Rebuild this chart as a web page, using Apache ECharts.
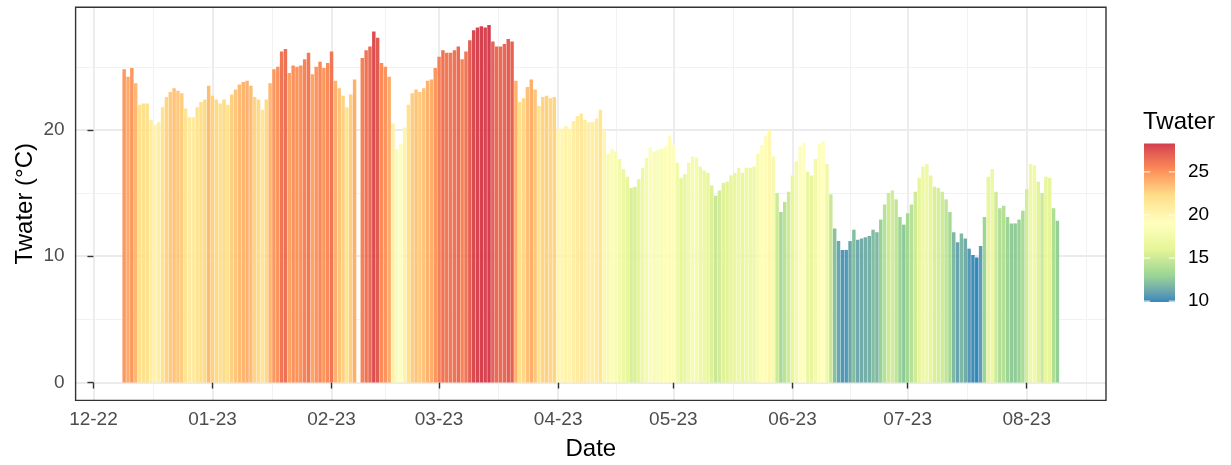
<!DOCTYPE html>
<html>
<head>
<meta charset="utf-8">
<script src="https://cdn.jsdelivr.net/npm/echarts@6/dist/echarts.min.js"></script>
<style>
  html, body { margin: 0; padding: 0; background: #ffffff; }
  #chart { width: 1231px; height: 465px; }
</style>
</head>
<body>
<div id="chart"></div>
<script>
// Daily mean water temperature (°C), one value per day from firstDate on; null = no reading
const firstDate = '2022-12-09';
const twaterDec = [24.8, 24.2, 24.9, 23.7, 22.0, 22.1, 22.1, 20.8, 20.4, 20.6, 21.8, 22.6, 23.0, 23.3, 23.1, 22.9, 21.7, 21.0, 21.0, 21.8, 22.2, 22.4, 23.5];
const twaterJan = [22.7, 22.4, 22.1, 22.4, 22.0, 22.8, 23.2, 23.6, 23.8, 23.9, 23.5, 22.6, 22.4, 21.6, 22.4, 23.7, 24.8, 25.0, 26.2, 26.4, 24.5, 25.1, 25.0, 25.1, 25.6, 26.1, 24.4, 25.0, 25.4, 24.9, 25.3];
const twaterFeb = [26.2, 23.9, 23.3, 22.7, 21.8, 22.8, 24.0, null, 25.7, 26.3, 26.6, 27.8, 27.3, 25.3, 25.0, 24.2, 20.5, 18.5, 18.9, 20.2, 22.0, 22.9, 23.2, 23.0, 23.3, 23.9, 24.0, 24.9];
const twaterMar = [25.8, 26.3, 26.1, 26.1, 26.3, 26.6, 25.6, 26.2, 27.1, 27.9, 28.1, 28.2, 28.1, 28.3, 27.0, 26.6, 26.6, 26.8, 27.2, 27.0, 23.9, 22.2, 22.5, 23.4, 24.0, 23.2, 21.9, 22.6, 22.7, 22.5, 22.6];
const twaterApr = [20.1, 20.1, 20.3, 20.1, 20.7, 21.1, 21.3, 20.8, 20.6, 20.6, 20.9, 21.6, 20.0, 18.1, 18.5, 18.3, 17.7, 16.9, 16.3, 15.4, 15.5, 16.1, 17.0, 17.8, 18.6, 18.3, 18.4, 18.5, 18.7, 19.5];
const twaterMay = [18.8, 17.4, 16.2, 16.5, 17.4, 17.9, 17.8, 17.1, 16.8, 16.6, 15.6, 14.8, 15.2, 15.8, 15.9, 16.4, 16.6, 17.0, 16.6, 17.0, 17.0, 17.1, 18.1, 18.8, 19.5, 20.0, 17.9, 15.0, 13.5, 14.3, 15.1];
const twaterJun = [16.4, 17.5, 18.7, 19.0, 16.7, 16.4, 17.7, 18.9, 19.1, 17.3, 14.9, 12.2, 11.2, 10.5, 10.5, 11.2, 12.1, 11.3, 11.4, 11.5, 11.6, 12.1, 11.9, 12.9, 14.1, 15.0, 15.2, 14.5, 13.1, 12.5];
const twaterJul = [13.4, 14.1, 15.1, 16.2, 17.1, 17.3, 16.4, 15.5, 15.4, 15.1, 14.5, 13.5, 11.9, 11.1, 11.8, 11.4, 10.6, 10.1, 9.9, 10.8, 13.1, 16.3, 16.9, 15.1, 13.8, 14.0, 13.1, 12.6, 12.6, 12.9, 13.6];
const twaterAug = [15.3, 17.3, 17.2, 15.9, 15.0, 16.3, 16.2, 13.8, 12.8];

// Date axis breaks (first of each month) and their labels
const monthBreaks = ['2022-12-01', '2023-01-01', '2023-02-01', '2023-03-01', '2023-04-01', '2023-05-01', '2023-06-01', '2023-07-01', '2023-08-01'];
const monthLabels = ['12-22', '01-23', '02-23', '03-23', '04-23', '05-23', '06-23', '07-23', '08-23'];

// Temperature axis breaks and colour bar breaks
const yBreaks = [0, 10, 20];
const yMinorBreaks = [5, 15, 25];
const legendBreaks = [10, 15, 20, 25];

// ColorBrewer "Spectral" (7 classes), cold to warm
const spectral = ['#3288BD', '#99D594', '#E6F598', '#FFFFBF', '#FEE08B', '#FC8D59', '#D53E4F'];

// ---------------------------------------------------------------------------
const FONT = '"Liberation Sans", Arial, sans-serif';
const DAY = 86400000;
const ORIGIN = Date.UTC(2022, 11, 1);
const dayOf = s => (Date.parse(s + 'T00:00:00Z') - ORIGIN) / DAY;

const values = [].concat(twaterDec, twaterJan, twaterFeb, twaterMar, twaterApr, twaterMay, twaterJun, twaterJul, twaterAug);
const d0 = dayOf(firstDate);
const points = [];
values.forEach((v, i) => { if (v !== null) points.push([d0 + i, v]); });

const present = values.filter(v => v !== null);
const tMin = Math.min(...present);
const tMax = Math.max(...present);

// x range: bar extents (0.9 day wide) with 5 % padding on each side
const barHalf = 0.45;
const xLo = points[0][0] - barHalf;
const xHi = points[points.length - 1][0] + barHalf;
const xPad = 0.05 * (xHi - xLo);
const xMin = xLo - xPad, xMax = xHi + xPad;

// y range: from zero to the warmest day, 5 % padding
const yPad = 0.05 * (tMax - 0);
const yMin = 0 - yPad, yMax = tMax + yPad;

const majorDays = monthBreaks.map(dayOf);
// minor grid half-way between month breaks, continued one step past the last one
const minorDays = [];
for (let i = 0; i < majorDays.length - 1; i++) minorDays.push((majorDays[i] + majorDays[i + 1]) / 2);
minorDays.push(majorDays[majorDays.length - 1] + (majorDays[1] - majorDays[0]) / 2);

// Spectral ramp interpolated in CIE Lab
function hexToRgb(h) { return [1, 3, 5].map(i => parseInt(h.slice(i, i + 2), 16) / 255); }
const toLin = c => c <= 0.04045 ? c / 12.92 : Math.pow((c + 0.055) / 1.055, 2.4);
const fromLin = c => c <= 0.0031308 ? 12.92 * c : 1.055 * Math.pow(c, 1 / 2.4) - 0.055;
function rgbToLab(rgb) {
  const [r, g, b] = rgb.map(toLin);
  const X = (0.4124 * r + 0.3576 * g + 0.1805 * b) / 0.95047;
  const Y = 0.2126 * r + 0.7152 * g + 0.0722 * b;
  const Z = (0.0193 * r + 0.1192 * g + 0.9505 * b) / 1.08883;
  const f = t => t > 0.008856 ? Math.cbrt(t) : 7.787 * t + 16 / 116;
  const fx = f(X), fy = f(Y), fz = f(Z);
  return [116 * fy - 16, 500 * (fx - fy), 200 * (fy - fz)];
}
function labToHex(lab) {
  const fy = (lab[0] + 16) / 116, fx = fy + lab[1] / 500, fz = fy - lab[2] / 200;
  const fi = t => { const t3 = t * t * t; return t3 > 0.008856 ? t3 : (t - 16 / 116) / 7.787; };
  const X = fi(fx) * 0.95047, Y = fi(fy), Z = fi(fz) * 1.08883;
  const rgb = [3.2406 * X - 1.5372 * Y - 0.4986 * Z, -0.9689 * X + 1.8758 * Y + 0.0415 * Z, 0.0557 * X - 0.2040 * Y + 1.0570 * Z];
  return '#' + rgb.map(c => Math.round(Math.min(1, Math.max(0, fromLin(c))) * 255).toString(16).padStart(2, '0')).join('');
}
const labs = spectral.map(h => rgbToLab(hexToRgb(h)));
const ramp = [];
const N = 61;
for (let k = 0; k < N; k++) {
  const t = k / (N - 1) * (labs.length - 1);
  const s = Math.min(labs.length - 2, Math.floor(t));
  const u = t - s;
  ramp.push(labToHex(labs[s].map((c, j) => c + (labs[s + 1][j] - c) * u)));
}

// Plot panel and colour bar placement (pixels)
const GRID = { left: 75.6, top: 7.2, width: 1030.4, height: 393.2 };
const CB = { x: 1144, y: 143.5, w: 31, h: 158.5 };
const cbY = v => CB.y + CB.h * (tMax - v) / (tMax - tMin);

const legendGraphics = [
  { type: 'text', x: CB.x - 1, y: 122, style: { text: 'Twater', font: '24px ' + FONT, fill: '#000', align: 'left', verticalAlign: 'middle' } },
  {
    type: 'rect', shape: { x: CB.x, y: CB.y, width: CB.w, height: CB.h },
    style: { fill: new echarts.graphic.LinearGradient(0, 0, 0, 1, ramp.slice().reverse().map((c, i) => ({ offset: i / (N - 1), color: c }))) }
  }
];
legendBreaks.forEach(v => {
  const y = cbY(v);
  legendGraphics.push(
    { type: 'line', shape: { x1: CB.x, y1: y, x2: CB.x + CB.w / 5, y2: y }, style: { stroke: '#ffffff', lineWidth: 1 } },
    { type: 'line', shape: { x1: CB.x + CB.w * 4 / 5, y1: y, x2: CB.x + CB.w, y2: y }, style: { stroke: '#ffffff', lineWidth: 1 } },
    { type: 'text', x: CB.x + CB.w + 13, y: y, style: { text: String(v), font: '19px ' + FONT, fill: '#000', align: 'left', verticalAlign: 'middle' } }
  );
});
// panel border
legendGraphics.push({
  type: 'rect', z: 100, silent: true,
  shape: { x: GRID.left, y: GRID.top, width: GRID.width, height: GRID.height },
  style: { fill: 'none', stroke: '#333333', lineWidth: 1.4 }
});

const gridLineMajor = { show: true, lineStyle: { color: '#EBEBEB', width: 1.8 } };
const gridLineMinor = { show: true, lineStyle: { color: '#F2F2F2', width: 1.0 } };

const chart = echarts.init(document.getElementById('chart'), null, { renderer: 'canvas' });
chart.setOption({
  animation: false,
  backgroundColor: '#ffffff',
  textStyle: { fontFamily: FONT },
  grid: { left: GRID.left, top: GRID.top, width: GRID.width, height: GRID.height, containLabel: false, outerBoundsMode: 'none' },
  xAxis: [
    {
      type: 'value', min: xMin, max: xMax,
      name: 'Date', nameLocation: 'middle', nameGap: 37, nameMoveOverlap: false,
      nameTextStyle: { fontSize: 24, color: '#000', fontFamily: FONT },
      axisLine: { show: false },
      axisTick: { show: true, customValues: majorDays, length: 6, lineStyle: { color: '#333333', width: 1.4 } },
      axisLabel: {
        customValues: majorDays, margin: 10, fontSize: 19, color: '#4D4D4D', fontFamily: FONT,
        formatter: v => monthLabels[majorDays.indexOf(v)]
      },
      splitLine: gridLineMajor, z: 2
    },
    {
      type: 'value', min: xMin, max: xMax, position: 'bottom',
      axisLine: { show: false }, axisLabel: { show: false },
      axisTick: { show: false, customValues: minorDays },
      splitLine: gridLineMinor, z: 1
    }
  ],
  yAxis: [
    {
      type: 'value', min: yMin, max: yMax,
      name: 'Twater (°C)', nameLocation: 'middle', nameGap: 38, nameMoveOverlap: false,
      nameTextStyle: { fontSize: 24, color: '#000', fontFamily: FONT },
      axisLine: { show: false },
      axisTick: { show: true, customValues: yBreaks, length: 6, lineStyle: { color: '#333333', width: 1.4 } },
      axisLabel: { customValues: yBreaks, margin: 11, fontSize: 19, color: '#4D4D4D', fontFamily: FONT },
      splitLine: gridLineMajor, z: 2
    },
    {
      type: 'value', min: yMin, max: yMax, position: 'left',
      axisLine: { show: false }, axisLabel: { show: false },
      axisTick: { show: false, customValues: yMinorBreaks },
      splitLine: gridLineMinor, z: 1
    }
  ],
  visualMap: {
    type: 'continuous', show: false, seriesIndex: 0, dimension: 1,
    min: tMin, max: tMax, inRange: { color: ramp }
  },
  graphic: legendGraphics,
  series: [{
    type: 'bar', name: 'Twater', xAxisIndex: 0, yAxisIndex: 0,
    data: points, barWidth: '90%', z: 3,
    itemStyle: { borderWidth: 0 }
  }]
});
</script>
</body>
</html>
